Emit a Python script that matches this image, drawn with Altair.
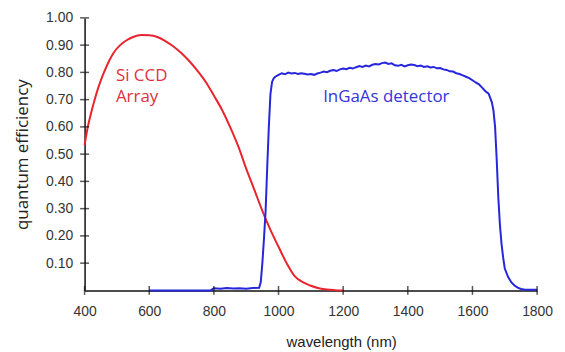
import altair as alt
import pandas as pd

# Si CCD array quantum efficiency
si_wl = [400, 410, 420, 430, 440, 450, 460, 475, 490, 510, 530, 550, 575, 600,
         625, 650, 675, 700, 725, 750, 775, 800, 825, 850, 875, 900, 925, 950,
         975, 1000, 1025, 1050, 1075, 1100, 1125, 1150, 1175, 1200]
si_qe = [0.533, 0.60, 0.65, 0.695, 0.735, 0.77, 0.80, 0.84, 0.872, 0.90, 0.918,
         0.93, 0.937, 0.936, 0.93, 0.915, 0.895, 0.87, 0.84, 0.805, 0.765, 0.715,
         0.663, 0.60, 0.53, 0.447, 0.37, 0.292, 0.222, 0.16, 0.10, 0.052, 0.03,
         0.017, 0.008, 0.003, 0.001, 0.0]

# InGaAs detector quantum efficiency
ig_wl = [600, 700, 790, 800, 820, 840, 860, 880, 900, 920, 940, 945, 950, 955,
         960, 965, 970, 975, 980, 985, 990,
         1000, 1010, 1020, 1030, 1040, 1050, 1060, 1070, 1080, 1090,
         1100, 1110, 1120, 1130, 1140, 1150, 1160, 1170, 1180, 1190,
         1200, 1210, 1220, 1230, 1240, 1250, 1260, 1270, 1280, 1290,
         1300, 1310, 1320, 1330, 1340, 1350, 1360, 1370, 1380, 1390,
         1400, 1410, 1420, 1430, 1440, 1450, 1460, 1470, 1480, 1490,
         1500, 1510, 1520, 1530, 1540, 1550, 1560, 1570, 1580, 1590,
         1600, 1610, 1620, 1630, 1640, 1650, 1660, 1665, 1670, 1675,
         1680, 1685, 1690, 1695, 1700, 1710, 1720, 1730, 1740, 1750,
         1760, 1780, 1800]
ig_qe = [0.0, 0.0, 0.0, 0.008, 0.006, 0.009, 0.007, 0.008, 0.006, 0.009, 0.01,
         0.03, 0.10, 0.19, 0.29, 0.45, 0.60, 0.72, 0.765, 0.778, 0.784,
         0.791, 0.797, 0.793, 0.799, 0.796, 0.798, 0.794, 0.797, 0.795, 0.792,
         0.794, 0.791, 0.796, 0.799, 0.803, 0.801, 0.806, 0.809, 0.805, 0.811,
         0.814, 0.812, 0.817, 0.814, 0.819, 0.823, 0.820, 0.825, 0.822, 0.828,
         0.831, 0.829, 0.834, 0.836, 0.831, 0.833, 0.826, 0.824, 0.828, 0.822,
         0.826, 0.829, 0.827, 0.823, 0.825, 0.820, 0.822, 0.818, 0.820, 0.815,
         0.816, 0.811, 0.809, 0.804, 0.803, 0.797, 0.794, 0.789, 0.784, 0.779,
         0.771, 0.763, 0.756, 0.744, 0.731, 0.722, 0.69, 0.66, 0.60, 0.48,
         0.34, 0.24, 0.17, 0.12, 0.08, 0.05, 0.03, 0.018, 0.01, 0.005,
         0.003, 0.002, 0.002]

x_ticks = [400, 600, 800, 1000, 1200, 1400, 1600, 1800]
y_ticks = [0.1, 0.2, 0.3, 0.4, 0.5, 0.6, 0.7, 0.8, 0.9, 1.0]

labels = ["Si CCD", "Array", "InGaAs detector"]
label_wl = [497, 497, 1138]
label_qe = [0.770, 0.690, 0.693]
label_color = ["#e0303c", "#e0303c", "#3434d8"]

W, H = 455, 274

si = pd.DataFrame({"wl": si_wl, "qe": si_qe})
ig = pd.DataFrame({"wl": ig_wl, "qe": ig_qe})
lab = pd.DataFrame({"wl": label_wl, "qe": label_qe, "text": labels, "c": label_color})
xt = pd.DataFrame({"wl": x_ticks})
yt = pd.DataFrame({"qe": y_ticks})

xscale = alt.Scale(domain=[400, 1800], nice=False, zero=False)
yscale = alt.Scale(domain=[0, 1], nice=False)

xaxis = alt.Axis(values=x_ticks, format="d", ticks=False, grid=False, labelPadding=14,
                 labelOverlap=False, labelFlush=False,
                 title="wavelength (nm)", titleX=258, titleY=44,
                 titleBaseline="top", titleAlign="center",
                 titleFont="Liberation Sans", titleFontSize=15)
yaxis = alt.Axis(values=y_ticks, format=".2f", ticks=False, grid=False,
                 labelPadding=12, labelOverlap=False, labelFlush=False,
                 title="quantum efficiency", titleX=-62, titleY=H / 2,
                 titleAngle=-90, titleAlign="center", titleBaseline="middle",
                 titleFont="Open Sans", titleFontSize=17)

X = alt.X("wl:Q", scale=xscale, axis=xaxis, title="wavelength (nm)")
Y = alt.Y("qe:Q", scale=yscale, axis=yaxis, title="quantum efficiency")

red = alt.Chart(si).mark_line(color="#e8242e", strokeWidth=2, interpolate="monotone").encode(
    x=X, y=Y)
blue = alt.Chart(ig).mark_line(color="#2626dc", strokeWidth=2).encode(x=X, y=Y)

txt = alt.Chart(lab).mark_text(align="left", baseline="alphabetic", font="Open Sans",
                               fontSize=17).encode(
    x=X, y=Y, text="text:N", color=alt.Color("c:N", scale=None))

xtick = alt.Chart(xt).mark_tick(orient="vertical", size=9, thickness=1.5, color="#111").encode(
    x=X, y=alt.value(H))
ytick = alt.Chart(yt).mark_tick(orient="horizontal", size=9, thickness=1.5, color="#111").encode(
    y=Y, x=alt.value(0))

chart = alt.layer(red, blue, txt, xtick, ytick).properties(
    width=W, height=H,
    autosize=alt.AutoSizeParams(type="none"),
    padding={"left": 77, "top": 9, "right": 20, "bottom": 60},
).configure_view(stroke=None).configure_axis(
    domainColor="#111", domainWidth=1.5,
    labelFont="Liberation Sans", labelFontSize=14, labelColor="#333",
    titleColor="#222", titleFontWeight="normal",
)

chart.save("out.html", embed_options={"renderer": "svg", "actions": False})
